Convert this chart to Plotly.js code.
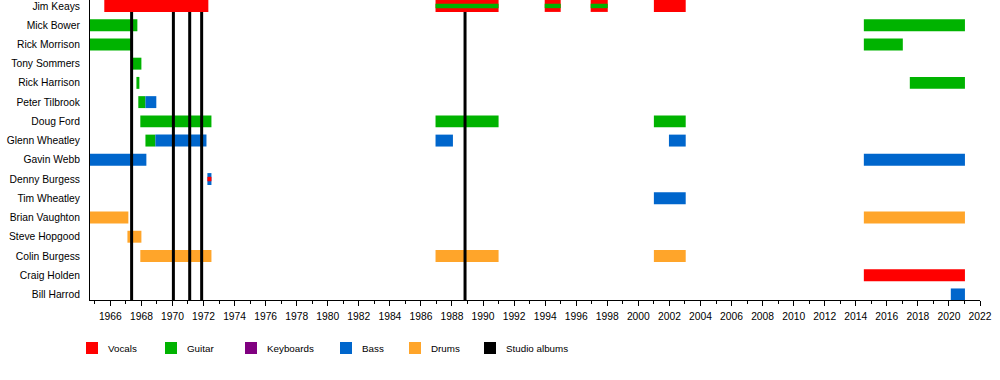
<!DOCTYPE html>
<html>
<head>
<meta charset="utf-8">
<script src="https://cdn.plot.ly/plotly-3.0.1.min.js"></script>
<style>html,body{margin:0;padding:0;background:#fff;}#chart{width:1000px;height:380px;}</style>
</head>
<body>
<div id="chart"></div>
<script>
// ---- Data ----
const members = ["Jim Keays","Mick Bower","Rick Morrison","Tony Sommers","Rick Harrison","Peter Tilbrook","Doug Ford","Glenn Wheatley","Gavin Webb","Denny Burgess","Tim Wheatley","Brian Vaughton","Steve Hopgood","Colin Burgess","Craig Holden","Bill Harrod"];

const vocalsName  = ["Jim Keays","Jim Keays","Jim Keays","Jim Keays","Jim Keays","Craig Holden"];
const vocalsStart = [1965.61, 1986.94, 1993.97, 1996.93, 2001.0, 2014.52];
const vocalsEnd   = [1972.31, 1991.0, 1995.0, 1998.03, 2003.05, 2021.03];

const guitarName  = ["Mick Bower","Mick Bower","Rick Morrison","Rick Morrison","Tony Sommers","Rick Harrison","Rick Harrison","Peter Tilbrook","Doug Ford","Doug Ford","Doug Ford","Glenn Wheatley"];
const guitarStart = [1964.69, 2014.52, 1964.69, 2014.52, 1967.44, 1967.68, 2017.48, 1967.80, 1967.93, 1986.94, 2001.0, 1968.26];
const guitarEnd   = [1967.74, 2021.03, 1967.46, 2017.03, 1968.0, 1967.87, 2021.03, 1968.26, 1972.51, 1991.0, 2003.05, 1968.9];

const bassName  = ["Peter Tilbrook","Glenn Wheatley","Glenn Wheatley","Glenn Wheatley","Gavin Webb","Gavin Webb","Denny Burgess","Tim Wheatley","Bill Harrod"];
const bassStart = [1968.26, 1968.9, 1986.94, 2001.97, 1964.69, 2014.52, 1972.25, 2001.0, 2020.12];
const bassEnd   = [1968.96, 1972.19, 1988.06, 2003.05, 1968.32, 2021.03, 1972.51, 2003.05, 2021.03];

const drumsName  = ["Brian Vaughton","Brian Vaughton","Steve Hopgood","Colin Burgess","Colin Burgess","Colin Burgess"];
const drumsStart = [1964.69, 2014.52, 1967.10, 1967.93, 1986.94, 2001.0];
const drumsEnd   = [1967.16, 2021.03, 1968.0, 1972.51, 1991.0, 2003.05];

// secondary roles drawn as thin stripes inside the main bar
const guitarStripeName  = ["Jim Keays","Jim Keays","Jim Keays"];
const guitarStripeStart = [1986.94, 1993.97, 1996.93];
const guitarStripeEnd   = [1991.0, 1995.0, 1998.03];

const vocalsStripeName  = ["Denny Burgess"];
const vocalsStripeStart = [1972.25];
const vocalsStripeEnd   = [1972.51];

const studioAlbums = [1967.37, 1970.06, 1971.11, 1971.88, 1988.84];

const legendLabels = ["Vocals","Guitar","Keyboards","Bass","Drums","Studio albums"];

// ---- Styles ----
const colors = {Vocals:"#FF0000", Guitar:"#00B300", Keyboards:"#800080", Bass:"#0066CC", Drums:"#FFA52A", "Studio albums":"#000000"};
const FONT = "Liberation Sans, Arial, sans-serif";

function barTrace(names, starts, ends, color, width){
  return {
    type:"bar", orientation:"h",
    y:names, base:starts, x:ends.map((e,i)=>e-starts[i]),
    marker:{color:color, line:{width:0}},
    width:width, hoverinfo:"skip", showlegend:false
  };
}

const data = [
  barTrace(vocalsName, vocalsStart, vocalsEnd, colors.Vocals, 0.62),
  barTrace(guitarName, guitarStart, guitarEnd, colors.Guitar, 0.62),
  barTrace(bassName, bassStart, bassEnd, colors.Bass, 0.62),
  barTrace(drumsName, drumsStart, drumsEnd, colors.Drums, 0.62),
  barTrace(guitarStripeName, guitarStripeStart, guitarStripeEnd, colors.Guitar, 0.23),
  barTrace(vocalsStripeName, vocalsStripeStart, vocalsStripeEnd, colors.Vocals, 0.23)
];

// layout geometry (pixels)
const W = 1000, H = 380, ML = 90, MR = 20, MT = 0, MB = 80;
const PW = W - ML - MR, PH = H - MT - MB;
const px2x = p => (p - ML) / PW;
const py2y = p => (PH + MT - p) / PH;

const shapes = studioAlbums.map(a => ({
  type:"line", xref:"x", yref:"paper", x0:a, x1:a, y0:0, y1:py2y(12),
  line:{color:"#000", width:3}, layer:"above"
}));

const legendSwatchX = [86, 165, 245, 340, 409, 484];
const legendY = 348;
const annotations = [];
legendLabels.forEach((lab, i) => {
  const x0 = legendSwatchX[i];
  shapes.push({type:"rect", xref:"paper", yref:"paper",
    x0:px2x(x0), x1:px2x(x0+12), y0:py2y(legendY+6), y1:py2y(legendY-6),
    fillcolor:colors[lab], line:{width:0}, layer:"above"});
  annotations.push({xref:"paper", yref:"paper", x:px2x(x0+20), y:py2y(legendY),
    xanchor:"left", yanchor:"middle", text:lab, showarrow:false,
    font:{family:FONT, size:9.8, color:"#000"}});
});

const layout = {
  width:W, height:H,
  margin:{l:ML, r:MR, t:MT, b:MB, pad:0},
  paper_bgcolor:"#fff", plot_bgcolor:"#fff",
  barmode:"overlay",
  showlegend:false,
  font:{family:FONT, size:10.3, color:"#000"},
  xaxis:{
    range:[1964.69, 2022], showgrid:false, zeroline:false,
    showline:true, linecolor:"#000", linewidth:1,
    ticks:"outside", ticklen:5, tickwidth:1, tickcolor:"#000",
    dtick:2, tick0:1966, tickformat:"d", ticklabelstandoff:2,
    tickfont:{family:FONT, size:10.3, color:"#000"},
    minor:{dtick:1, tick0:1966, ticks:"outside", ticklen:3, tickwidth:1, tickcolor:"#000", showgrid:false},
    fixedrange:true
  },
  yaxis:{
    type:"category", categoryorder:"array", categoryarray:members,
    range:[15.29, -0.31], showgrid:false, zeroline:false,
    showline:true, linecolor:"#000", linewidth:1,
    ticks:"", ticklabelstandoff:7,
    tickfont:{family:FONT, size:10.3, color:"#000"},
    fixedrange:true
  },
  shapes:shapes,
  annotations:annotations
};

Plotly.newPlot("chart", data, layout, {displayModeBar:false, staticPlot:true});
</script>
</body>
</html>
